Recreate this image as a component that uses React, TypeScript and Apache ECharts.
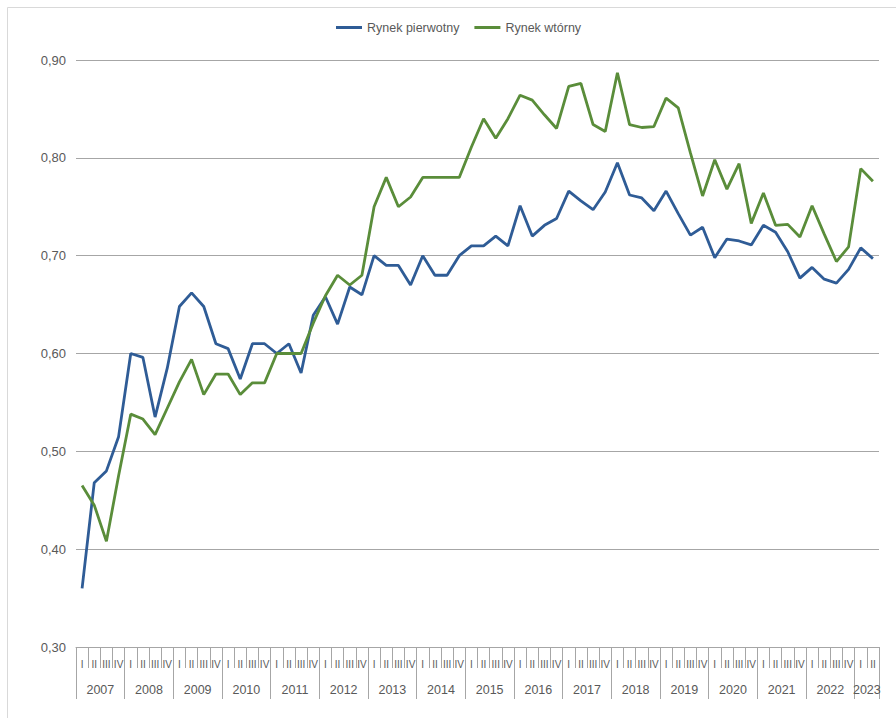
import React, { useEffect, useRef } from "react";
import * as echarts from "echarts";

const years = [2007, 2008, 2009, 2010, 2011, 2012, 2013, 2014, 2015, 2016, 2017, 2018, 2019, 2020, 2021, 2022, 2023];
const quartersPerYear = [4, 4, 4, 4, 4, 4, 4, 4, 4, 4, 4, 4, 4, 4, 4, 4, 2];
const quarterNames = ["I", "II", "III", "IV"];

const rynekPierwotny = [
  0.360, 0.468, 0.480, 0.515,
  0.600, 0.596, 0.535, 0.585,
  0.648, 0.662, 0.648, 0.610,
  0.605, 0.574, 0.610, 0.610,
  0.600, 0.610, 0.580, 0.639,
  0.658, 0.630, 0.668, 0.660,
  0.700, 0.690, 0.690, 0.670,
  0.700, 0.680, 0.680, 0.700,
  0.710, 0.710, 0.720, 0.710,
  0.751, 0.720, 0.731, 0.738,
  0.766, 0.756, 0.747, 0.765,
  0.795, 0.762, 0.759, 0.746,
  0.766, 0.743, 0.721, 0.729,
  0.698, 0.717, 0.715, 0.711,
  0.731, 0.724, 0.704, 0.677,
  0.688, 0.676, 0.672, 0.686,
  0.708, 0.697,
];

const rynekWtorny = [
  0.465, 0.445, 0.408, 0.475,
  0.538, 0.533, 0.517, 0.544,
  0.571, 0.594, 0.558, 0.579,
  0.579, 0.558, 0.570, 0.570,
  0.600, 0.600, 0.600, 0.631,
  0.659, 0.680, 0.670, 0.680,
  0.750, 0.780, 0.750, 0.760,
  0.780, 0.780, 0.780, 0.780,
  0.811, 0.840, 0.820, 0.840,
  0.864, 0.859, 0.844, 0.830,
  0.873, 0.876, 0.834, 0.827,
  0.887, 0.834, 0.831, 0.832,
  0.861, 0.851, 0.805, 0.761,
  0.798, 0.768, 0.794, 0.733,
  0.764, 0.731, 0.732, 0.719,
  0.751, 0.722, 0.694, 0.709,
  0.789, 0.776,
];

const seriesNames = ["Rynek pierwotny", "Rynek wtórny"];
const colors = ["#2f5c96", "#5a8d3a"];

const FONT = "'Liberation Sans', Arial, Helvetica, sans-serif";

export default function App() {
  const ref = useRef<HTMLDivElement>(null);

  useEffect(() => {
    if (!ref.current) return;
    const chart = echarts.init(ref.current, null, { renderer: "svg" });

    // quarter categories
    const quarterCats: string[] = [];
    years.forEach((y, yi) => {
      for (let q = 0; q < quartersPerYear[yi]; q++) quarterCats.push(quarterNames[q]);
    });
    const nQ = quarterCats.length;

    // year axis on half-quarter points (boundaryGap false)
    const yearCats: string[] = new Array(nQ * 2 + 1).fill("");
    const yearTicks = new Set<number>();
    let start = 0;
    years.forEach((y, yi) => {
      const n = quartersPerYear[yi];
      yearTicks.add(start * 2);
      yearCats[start * 2 + n] = String(y);
      start += n;
    });
    yearTicks.add(start * 2);

    const option: any = {
      animation: false,
      backgroundColor: "#ffffff",
      textStyle: { fontFamily: FONT },
      graphic: [
        {
          type: "rect",
          silent: true,
          z: -10,
          shape: { x: 7.5, y: 7.5, width: 1000, height: 1000 },
          style: { fill: "none", stroke: "#d9d9d9", lineWidth: 1 },
        },
      ],
      legend: {
        top: 21,
        left: 336,
        padding: 0,
        icon: "rect",
        itemWidth: 26,
        itemHeight: 3,
        itemGap: 15,
        textStyle: { fontSize: 12.5, color: "#595959", fontFamily: FONT },
        data: seriesNames,
      },
      grid: { left: 76, right: 17, top: 60, bottom: 71, containLabel: false },
      xAxis: [
        {
          type: "category",
          data: quarterCats,
          boundaryGap: true,
          position: "bottom",
          axisLine: { show: true, lineStyle: { color: "#a6a6a6", width: 1 } },
          axisTick: { show: true, interval: 0, length: 21, lineStyle: { color: "#a6a6a6" } },
          axisLabel: { interval: 0, margin: 12, fontSize: 10, color: "#595959", fontFamily: FONT },
          splitLine: { show: false },
        },
        {
          type: "category",
          data: yearCats,
          boundaryGap: false,
          position: "bottom",
          axisLine: { show: false },
          axisTick: {
            show: true,
            interval: (i: number) => yearTicks.has(i),
            length: 52,
            lineStyle: { color: "#a6a6a6" },
          },
          axisLabel: {
            interval: (i: number, v: string) => v !== "",
            margin: 36,
            fontSize: 12.5,
            color: "#595959",
            fontFamily: FONT,
          },
          splitLine: { show: false },
        },
      ],
      yAxis: {
        type: "value",
        min: 0.3,
        max: 0.9,
        interval: 0.1,
        axisLine: { show: false },
        axisTick: { show: false },
        axisLabel: {
          margin: 10,
          fontSize: 13,
          color: "#595959",
          fontFamily: FONT,
          formatter: (v: number) => v.toFixed(2).replace(".", ","),
        },
        splitLine: { show: true, lineStyle: { color: "#a6a6a6", width: 1.2 } },
      },
      series: [
        {
          name: seriesNames[0],
          type: "line",
          xAxisIndex: 0,
          data: rynekPierwotny,
          symbol: "none",
          lineStyle: { color: colors[0], width: 2.8 },
          itemStyle: { color: colors[0] },
        },
        {
          name: seriesNames[1],
          type: "line",
          xAxisIndex: 0,
          data: rynekWtorny,
          symbol: "none",
          lineStyle: { color: colors[1], width: 2.8 },
          itemStyle: { color: colors[1] },
        },
      ],
    };

    chart.setOption(option);
    return () => chart.dispose();
  }, []);

  return (
    <div
      ref={ref}
      style={{ position: "absolute", left: 0, top: 0, width: 896, height: 718 }}
    />
  );
}
